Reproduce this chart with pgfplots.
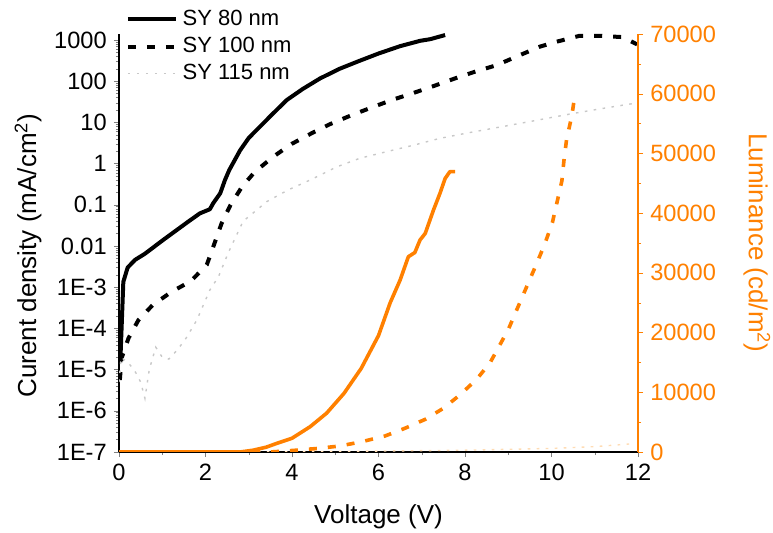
\documentclass[border=0pt]{standalone}
\usepackage{pgfplots}
\pgfplotsset{compat=1.18}
\usepackage{fontspec}
\setmainfont{Liberation Sans}
\definecolor{lumorange}{RGB}{255,128,0}
\definecolor{lightdot}{RGB}{200,200,200}
\definecolor{lightorg}{RGB}{255,220,180}

\begin{document}
\begin{tikzpicture}
\pgfplotsset{
  every axis/.append style={
    width=259.5pt, height=209pt, scale only axis,
    xmin=0, xmax=12,
    tick label style={font=\fontsize{11.8}{13}\selectfont},
    /pgf/number format/assume math mode=true,
    major tick length=2.5pt, minor tick length=1.5pt,
    tick align=outside, line width=0.6pt,
  },
}
\begin{axis}[
  ymode=log, ymin=1e-7, ymax=1400,
  axis x line*=bottom, axis y line*=left,
  xtick={0,2,4,6,8,10,12}, minor x tick num=1,
  ytick={1e-7,1e-6,1e-5,1e-4,1e-3,1e-2,1e-1,1,10,100,1000},
  yticklabels={1E-7,1E-6,1E-5,1E-4,1E-3,0.01,0.1,1,10,100,1000},
  xlabel={Voltage (V)}, ylabel={Curent density (mA/cm\textsuperscript{2})},
  every axis y label/.style={at={(axis description cs:-0.175,0.47)}, rotate=90, anchor=center,
    font=\fontsize{13}{15}\selectfont},
  every axis x label/.style={at={(axis description cs:0.5,-0.155)}, anchor=center,
    font=\fontsize{13}{15}\selectfont},
  legend style={at={(0.012,1.066)}, anchor=north west, draw=none, fill=none,
    font=\fontsize{11}{13}\selectfont, inner sep=0pt, row sep=1.2pt,
    nodes={inner sep=1.6pt, inner xsep=2.4pt}},
  legend cell align=left,
  legend image code/.code={\draw[#1] (0pt,0pt) -- (24pt,0pt);},
]
% SY 80 nm
\addplot[black, line width=2pt, line join=round] coordinates {
 (0.03,1.5e-5) (0.1,1.35e-3) (0.2,3e-3) (0.37,4.6e-3) (0.6,6.5e-3)
 (1.02,0.014) (1.6,0.039) (1.87,0.062) (2.1,0.078) (2.18,0.11)
 (2.34,0.19) (2.45,0.4) (2.55,0.7) (2.8,2.1) (3.0,4.2) (3.26,7.9)
 (3.55,16) (3.88,35) (4.25,65) (4.65,117) (5.1,200) (5.5,295)
 (6.0,470) (6.5,710) (6.96,955) (7.2,1050) (7.54,1320)
};
\addlegendentry{SY 80 nm}
% SY 100 nm
\addplot[black, line width=2pt, dash pattern=on 4pt off 5.5pt] coordinates {
 (0.02,5.6e-6) (0.06,1.9e-5) (0.22,5.8e-5) (0.45,1.6e-4) (0.78,3.7e-4)
 (1.22,7.8e-4) (1.66,1.4e-3) (2.03,3.5e-3) (2.2,0.011) (2.37,0.035)
 (2.58,0.1) (2.85,0.28) (3.14,0.63) (3.57,1.48) (3.99,3.0) (4.46,5.5)
 (4.88,9.1) (5.38,15) (5.84,23) (6.31,35) (6.81,52) (7.27,76)
 (7.77,117) (8.23,170) (8.73,245) (9.2,400) (9.73,690) (10.12,910)
 (10.64,1260) (11.14,1260) (11.65,1175) (11.98,780)
};
\addlegendentry{SY 100 nm}
% SY 115 nm
\addplot[lightdot, line width=0.7pt, dash pattern=on 1.3pt off 3.2pt] coordinates {
 (0.0,5e-6) (0.05,2e-5) (0.2,1.5e-5) (0.35,1e-5) (0.5,5e-6) (0.6,2e-6)
 (0.7,1e-5) (0.85,3.5e-5) (1.0,2e-5) (1.15,1.8e-5) (1.35,3e-5)
 (1.56,6e-5) (1.8,1.6e-4) (2.1,8.5e-4) (2.3,1.8e-3) (2.53,7e-3)
 (2.87,0.04) (3.42,0.12) (3.91,0.23) (4.42,0.4) (5.03,0.83) (5.57,1.35)
 (6.19,1.95) (6.81,2.8) (7.42,4.1) (8.04,5.5) (8.65,7.2) (9.5,10.5)
 (10.43,16) (11.2,22) (12,30)
};
\addlegendentry{SY 115 nm}
\end{axis}

\begin{axis}[
  axis x line=none, axis y line*=right,
  ymin=0, ymax=70000,
  ytick={0,10000,20000,30000,40000,50000,60000,70000}, minor y tick num=1,
  scaled y ticks=false,
  yticklabel style={lumorange, /pgf/number format/.cd, fixed, 1000 sep={}},
  y axis line style={lumorange, -}, ytick style={lumorange},
  ylabel={Luminance (cd/m\textsuperscript{2})},
  every axis y label/.style={at={(axis description cs:1.229,0.5)}, rotate=-90, anchor=center,
    text=lumorange, font=\fontsize{13}{15}\selectfont},
]
% SY 115 nm luminance (faint)
\addplot[lightorg, line width=0.7pt, dash pattern=on 1.3pt off 3.2pt] coordinates {
 (3,0) (6,150) (8,300) (10,600) (11,900) (11.9,1400)
};
% SY 100 nm luminance
\addplot[lumorange, line width=1.8pt, dash pattern=on 4pt off 5.5pt] coordinates {
 (0,0) (3.5,0) (4.1,300) (4.6,600) (5.1,1000) (5.6,1700) (6.15,2680)
 (6.61,3970) (7.08,5470) (7.5,7320) (7.88,9550) (8.27,12180) (8.58,14960)
 (9.0,20500) (9.46,28260) (9.66,31600) (9.85,34960) (10.02,38400)
 (10.13,41900) (10.24,45400) (10.29,49000) (10.35,52400) (10.47,56300)
 (10.52,58800) (10.6,59400)
};
% SY 80 nm luminance
\addplot[lumorange, line width=1.8pt, line join=round] coordinates {
 (0,0) (2.8,0) (3.1,300) (3.4,800) (3.65,1450) (4.0,2300) (4.42,4240)
 (4.8,6500) (5.2,9800) (5.6,14000) (6.0,19500) (6.27,25000) (6.5,28800)
 (6.69,32700) (6.84,33400) (6.96,35500) (7.08,36600) (7.27,40500)
 (7.42,43300) (7.54,45800) (7.65,46950) (7.77,46950)
};
\end{axis}
\pgfresetboundingbox
\path[use as bounding box] ([shift={(-59.5pt,-40.5pt)}]current axis.south west)
  rectangle ([shift={(67.5pt,17pt)}]current axis.north east);
\end{tikzpicture}
\end{document}
